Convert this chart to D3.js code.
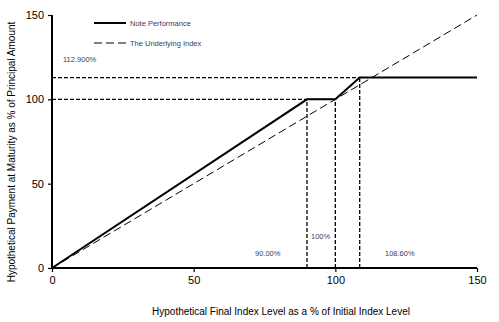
<!DOCTYPE html>
<html>
<head>
<meta charset="utf-8">
<script src="https://cdn.jsdelivr.net/npm/d3@7"></script>
<style>
  html, body { margin: 0; padding: 0; background: #fff; }
  svg { display: block; font-family: "Liberation Sans", Arial, sans-serif; }
</style>
</head>
<body>
<svg id="chart" width="499" height="322"></svg>
<script>
// Payoff of the note versus the underlying index
const noteX = [0, 90, 100, 108.6, 150];
const noteY = [0, 100, 100, 112.9, 112.9];
const indexX = [0, 150];
const indexY = [0, 150];
const xTicks = [0, 50, 100, 150];
const yTicks = [0, 50, 100, 150];
// Reference levels: [x, y] corner points for guide lines
const guideX = [90, 100, 108.6];
const guideY = [100, 100, 112.9];
const levelLabels = ["90.00%", "100%", "108.60%"];
const capLabel = "112.900%";
const legendNames = ["Note Performance", "The Underlying Index"];

const svg = d3.select("#chart");
const x = d3.scaleLinear().domain([0, 150]).range([52, 477]);
const y = d3.scaleLinear().domain([0, 150]).range([268, 15]);

// guide lines
const guides = svg.append("g")
  .attr("fill", "none").attr("stroke", "#000")
  .attr("stroke-width", 1.3).attr("stroke-dasharray", "4,2");
guideX.forEach((gx, i) => {
  guides.append("line")
    .attr("x1", x(gx)).attr("x2", x(gx))
    .attr("y1", y(0)).attr("y2", y(guideY[i]));
});
// horizontal guides at 100 (to x=100) and at the cap (to 108.6)
guides.append("line")
  .attr("x1", x(0)).attr("x2", x(100))
  .attr("y1", y(100)).attr("y2", y(100));
guides.append("line")
  .attr("x1", x(0)).attr("x2", x(108.6))
  .attr("y1", y(112.9)).attr("y2", y(112.9));

const line = d3.line().x(d => x(d[0])).y(d => y(d[1]));

// underlying index
svg.append("path")
  .datum(indexX.map((v, i) => [v, indexY[i]]))
  .attr("d", line)
  .attr("fill", "none").attr("stroke", "#000")
  .attr("stroke-width", 1).attr("stroke-dasharray", "8,4");

// note performance
svg.append("path")
  .datum(noteX.map((v, i) => [v, noteY[i]]))
  .attr("d", line)
  .attr("fill", "none").attr("stroke", "#000")
  .attr("stroke-width", 2);

// axes
const xAxis = svg.append("g")
  .attr("transform", `translate(0,${y(0)})`)
  .call(d3.axisBottom(x).tickValues(xTicks).tickSize(4).tickPadding(4).tickFormat(d3.format("d")));
const yAxis = svg.append("g")
  .attr("transform", `translate(${x(0)},0)`)
  .call(d3.axisLeft(y).tickValues(yTicks).tickSize(4).tickPadding(4).tickFormat(d3.format("d")));
[xAxis, yAxis].forEach(a => {
  a.select(".domain").attr("stroke-width", 2);
  a.selectAll(".tick line").attr("stroke-width", 1.2);
  a.selectAll("text").attr("font-size", 11).attr("fill", "#000")
    .attr("font-family", "Liberation Sans, Arial, sans-serif");
});
xAxis.select(".domain").attr("d", `M${x(0)},0H${x(150)}`);
yAxis.select(".domain").attr("d", `M0,${y(0)}V${y(150)}`);

// axis titles
svg.append("text")
  .attr("x", 281).attr("y", 315)
  .attr("text-anchor", "middle").attr("font-size", 10)
  .text("Hypothetical Final Index Level as a % of Initial Index Level");
svg.append("text")
  .attr("transform", "translate(15,152) rotate(-90)")
  .attr("text-anchor", "middle").attr("font-size", 10)
  .text("Hypothetical Payment at Maturity as % of Principal Amount");

// level annotations
const labelColor = "#3a4058";
const labelPos = [[255, 256], [311, 239], [385, 256]];
levelLabels.forEach((t, i) => {
  svg.append("text")
    .attr("x", labelPos[i][0]).attr("y", labelPos[i][1])
    .attr("font-size", 7.5).attr("fill", labelColor)
    .text(t);
});
svg.append("text")
  .attr("x", 63).attr("y", 62)
  .attr("font-size", 7.5).attr("fill", labelColor)
  .text(capLabel);

// legend
const legend = svg.append("g");
const legendY = [23, 43];
legendNames.forEach((name, i) => {
  legend.append("line")
    .attr("x1", 94).attr("x2", 126)
    .attr("y1", legendY[i]).attr("y2", legendY[i])
    .attr("stroke", "#000")
    .attr("stroke-width", i === 0 ? 2 : 1)
    .attr("stroke-dasharray", i === 0 ? null : "8,4");
  legend.append("text")
    .attr("x", 130).attr("y", legendY[i] + 2.5)
    .attr("font-size", 7.5).attr("fill", labelColor)
    .text(name);
});
</script>
</body>
</html>
